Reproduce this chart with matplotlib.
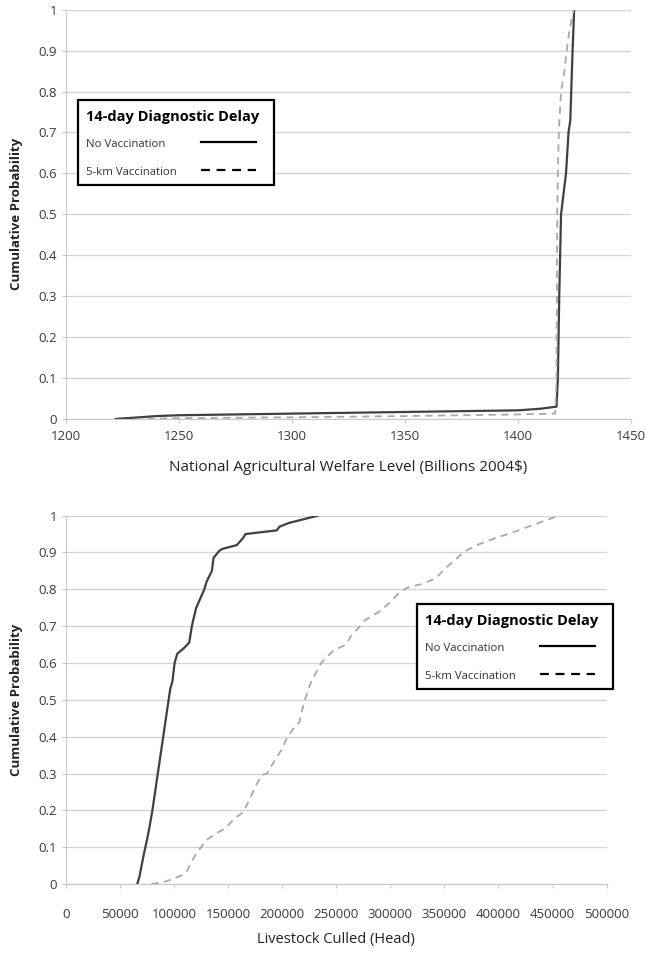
import numpy as np
import matplotlib
matplotlib.use("Agg")
import matplotlib.pyplot as plt
from matplotlib.patches import Rectangle

plt.rcParams['font.family'] = ['Open Sans', 'DejaVu Sans']

# top panel: national agricultural welfare (billions 2004$)
welfare_novacc = [1222, 1230, 1240, 1250, 1300, 1350, 1400, 1410, 1417, 1417.6,
                  1418.2, 1419, 1421.2, 1422.3, 1423.1, 1423.5, 1424.1, 1424.8]
prob_welfare_novacc = [0, 0.003, 0.007, 0.009, 0.013, 0.017, 0.021, 0.025, 0.03, 0.1,
                       0.3, 0.5, 0.6, 0.7, 0.73, 0.8, 0.9, 1.0]
welfare_vacc = [1236, 1250, 1300, 1350, 1400, 1416.4, 1417, 1417.3, 1417.6, 1418,
                1419, 1420.5, 1421.5, 1422.7, 1424.6]
prob_welfare_vacc = [0, 0.002, 0.004, 0.007, 0.011, 0.013, 0.1, 0.5, 0.6, 0.7,
                     0.8, 0.85, 0.9, 0.95, 1.0]

# bottom panel: livestock culled (head)
culled_novacc = [66000, 68000, 70000, 72000, 73500, 75000, 77000, 80000, 82500, 85000,
                 87500, 90000, 92500, 95000, 96500, 98500, 100500, 103000, 109000, 114000,
                 116500, 118000, 120500, 125000, 128000, 130000, 135000, 136500, 142000, 145000,
                 158000, 161000, 164000, 166000, 195000, 197500, 206000, 233000]
prob_culled_novacc = [0, 0.02, 0.05, 0.08, 0.1, 0.12, 0.15, 0.2, 0.25, 0.3,
                      0.35, 0.4, 0.45, 0.5, 0.53, 0.55, 0.6, 0.625, 0.64, 0.655,
                      0.7, 0.72, 0.75, 0.78, 0.8, 0.82, 0.85, 0.885, 0.905, 0.91,
                      0.92, 0.93, 0.94, 0.95, 0.96, 0.97, 0.98, 1.0]
culled_vacc = [79000, 90000, 100000, 108000, 112000, 116000, 120000, 125000, 130000, 139000,
               148000, 156000, 164000, 170000, 175000, 181000, 186000, 192000, 199000, 205000,
               210000, 216000, 218000, 221000, 227000, 236000, 247000, 259000, 264000, 272000,
               276000, 290000, 300000, 308000, 316000, 330000, 342000, 352000, 362000, 367000,
               380000, 395000, 413000, 432000, 456000]
prob_culled_vacc = [0, 0.005, 0.015, 0.025, 0.035, 0.06, 0.08, 0.1, 0.12, 0.137,
                    0.153, 0.178, 0.195, 0.23, 0.263, 0.296, 0.3, 0.33, 0.363, 0.4,
                    0.42, 0.44, 0.466, 0.5, 0.55, 0.6, 0.633, 0.65, 0.675, 0.7,
                    0.715, 0.74, 0.765, 0.79, 0.805, 0.815, 0.83, 0.86, 0.885, 0.9,
                    0.92, 0.937, 0.954, 0.975, 1.0]

legend_title = '14-day Diagnostic Delay'
series_names = ['No Vaccination', '5-km Vaccination']

y_ticks = np.round(np.arange(0, 1.01, 0.1), 1)
y_labels = ['0'] + [f'{v:.1f}' for v in y_ticks[1:-1]] + ['1']

fig = plt.figure(figsize=(6.46, 9.72), dpi=100)
ax1 = fig.add_axes([0.102, 0.569, 0.875, 0.421])
ax2 = fig.add_axes([0.102, 0.0905, 0.837, 0.379])

solid_col = '#404040'
dash_col = '#a8a8a8'
dash = (0, (4, 3))


def style(ax, xpad):
    ax.set_ylim(0, 1)
    ax.set_yticks(y_ticks)
    ax.set_yticklabels(y_labels)
    ax.grid(axis='y', color='#d4d4d4', lw=1)
    ax.set_axisbelow(True)
    for s in ['top', 'right']:
        ax.spines[s].set_visible(False)
    for s in ['left', 'bottom']:
        ax.spines[s].set_color('#c8c8c8')
    ax.tick_params(colors='#c8c8c8', labelcolor='#3a3a3a', labelsize=9.5, length=3)
    ax.tick_params(axis='x', pad=xpad)
    ax.set_ylabel('Cumulative Probability', fontsize=9.5, fontweight='bold',
                  color='#222222', labelpad=11)


def legend_box(ax, x0, x1, y0, y1):
    # box drawn in axes fractions, text on the left, sample lines on the right
    tr = ax.transAxes
    h = y1 - y0
    ax.add_patch(Rectangle((x0, y0), x1 - x0, h, transform=tr, facecolor='white',
                           edgecolor='black', lw=1.6, clip_on=False, zorder=5))
    tx = x0 + 0.04 * (x1 - x0)
    ax.text(tx, y1 - 0.2 * h, legend_title, transform=tr, fontsize=10.5,
            fontweight='bold', color='black', va='center', ha='left', zorder=6)
    lx0 = x0 + 0.63 * (x1 - x0)
    lx1 = x0 + 0.91 * (x1 - x0)
    for i, (name, ls) in enumerate(zip(series_names, ['-', dash])):
        yy = y1 - (0.53 + 0.33 * i) * h
        ax.text(tx, yy, name, transform=tr, fontsize=8.2, color='#333333',
                va='center', ha='left', zorder=6)
        ax.plot([lx0, lx1], [yy + 0.03 * h, yy + 0.03 * h], transform=tr, color='black',
                lw=1.6, ls=ls, clip_on=False, zorder=6)


style(ax1, 5)
ax1.plot(welfare_novacc, prob_welfare_novacc, color=solid_col, lw=1.6)
ax1.plot(welfare_vacc, prob_welfare_vacc, color=dash_col, lw=1.3, ls=dash)
ax1.set_xlim(1200, 1450)
ax1.set_xticks(range(1200, 1451, 50))
ax1.set_xlabel('National Agricultural Welfare Level (Billions 2004$)', fontsize=11,
               color='#222222', labelpad=12)
legend_box(ax1, 0.021, 0.368, 0.572, 0.780)

style(ax2, 14)
ax2.plot(culled_novacc, prob_culled_novacc, color=solid_col, lw=1.6)
ax2.plot(culled_vacc, prob_culled_vacc, color=dash_col, lw=1.3, ls=dash)
ax2.set_xlim(0, 500000)
ax2.set_xticks(range(0, 500001, 50000))
ax2.set_xlabel('Livestock Culled (Head)', fontsize=10.5, color='#222222', labelpad=8)
legend_box(ax2, 0.649, 1.011, 0.530, 0.761)

fig.savefig('out.png', dpi=100)
